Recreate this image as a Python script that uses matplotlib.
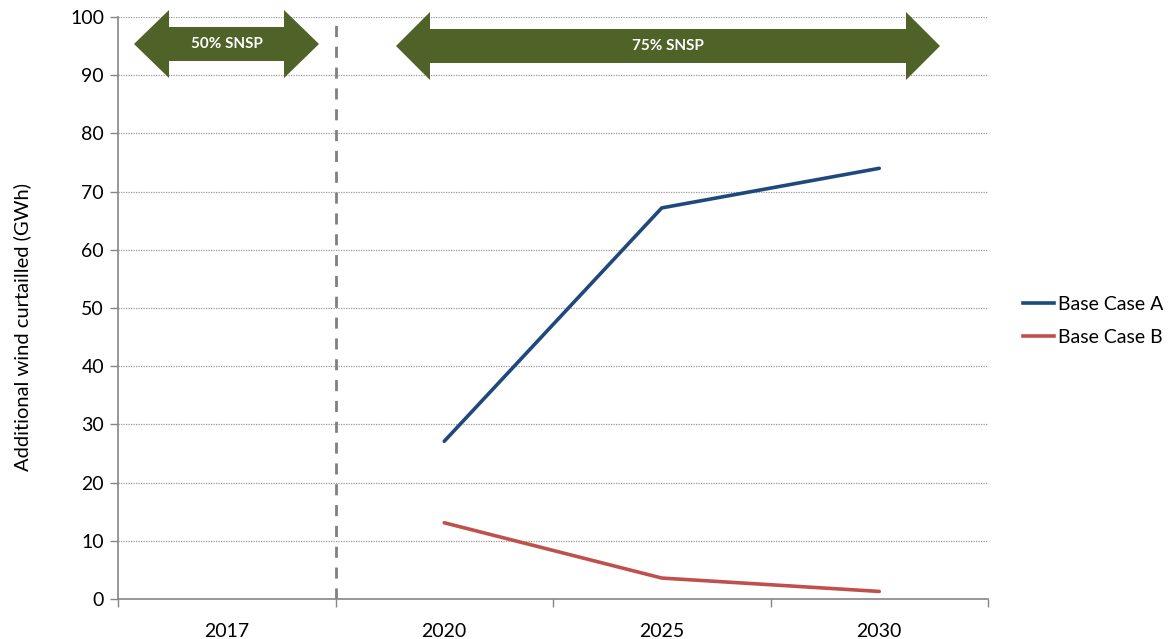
import matplotlib
matplotlib.use("Agg")
import matplotlib.pyplot as plt
from matplotlib.patches import Polygon
from matplotlib.lines import Line2D

plt.rcParams['font.family'] = ['Lato', 'DejaVu Sans']

categories = ['2017', '2020', '2025', '2030']
base_case_a = [None, 27.1, 67.2, 74.0]
base_case_b = [None, 13.1, 3.6, 1.3]
series_names = ['Base Case A', 'Base Case B']
arrow_labels = ['50% SNSP', '75% SNSP']

W, H = 1173, 639
fig = plt.figure(figsize=(W / 100, H / 100), dpi=100)
L, R, T, B = 118, 988, 17, 599
ax = fig.add_axes([L / W, 1 - B / H, (R - L) / W, (B - T) / H])

xs = list(range(len(categories)))
def pts(vals):
    x = [xi for xi, v in zip(xs, vals) if v is not None]
    y = [v for v in vals if v is not None]
    return x, y

ax.plot(*pts(base_case_a), color='#1F497D', lw=2.6, solid_capstyle='round', zorder=3)
ax.plot(*pts(base_case_b), color='#C0504D', lw=2.6, solid_capstyle='round', zorder=3)

ax.set_xlim(-0.5, len(categories) - 0.5)
ax.set_ylim(0, 100)
ax.set_yticks(range(0, 101, 10))
ax.set_xticks(xs)
ax.set_xticklabels(categories)
ax.set_xticks([i - 0.5 for i in range(len(categories) + 1)], minor=True)
ax.tick_params(axis='x', which='major', length=0, pad=17, labelsize=14, colors='black')
ax.tick_params(axis='x', which='minor', length=6, width=1, color='#868686')
ax.tick_params(axis='y', length=6, width=1, color='#868686', labelsize=14, pad=4)

ax.yaxis.grid(True, linestyle=(0, (1, 1)), color='#9A9A9A', lw=0.9)
ax.set_axisbelow(True)
for s in ['top', 'right']:
    ax.spines[s].set_visible(False)
for s in ['left', 'bottom']:
    ax.spines[s].set_color('#868686')
    ax.spines[s].set_linewidth(1.2)

ax.axvline(0.5, color='#808080', lw=2, linestyle=(0, (4, 3.5)), ymax=0.99, zorder=2)

fig.text(22 / W, 1 - 327 / H, 'Additional wind curtailled (GWh)', rotation=90,
         ha='center', va='center', fontsize=14.5)

def double_arrow(x0, x1, yc, head_len, head_half, shaft_half, label):
    pts_px = [
        (x0, yc), (x0 + head_len, yc - head_half), (x0 + head_len, yc - shaft_half),
        (x1 - head_len, yc - shaft_half), (x1 - head_len, yc - head_half), (x1, yc),
        (x1 - head_len, yc + head_half), (x1 - head_len, yc + shaft_half),
        (x0 + head_len, yc + shaft_half), (x0 + head_len, yc + head_half)]
    pts_fig = [(px / W, 1 - py / H) for px, py in pts_px]
    fig.patches.append(Polygon(pts_fig, closed=True, transform=fig.transFigure,
                               facecolor='#4F6228', edgecolor='none', zorder=5))
    fig.text((x0 + x1) / 2 / W, 1 - (yc) / H, label, ha='center', va='center',
             color='white', fontsize=11, fontweight='bold', zorder=6)

double_arrow(134, 319, 44, 35, 34, 17, arrow_labels[0])
double_arrow(396, 940, 46, 34, 34, 17, arrow_labels[1])

handles = [Line2D([0], [0], color='#1F497D', lw=2.6),
           Line2D([0], [0], color='#C0504D', lw=2.6)]
fig.legend(handles, series_names, loc='center left',
           bbox_to_anchor=(1005 / W, 1 - 321 / H), frameon=False, fontsize=14,
           handlelength=1.6, handletextpad=0.2, labelspacing=0.85)

fig.savefig('out.png', dpi=100)
